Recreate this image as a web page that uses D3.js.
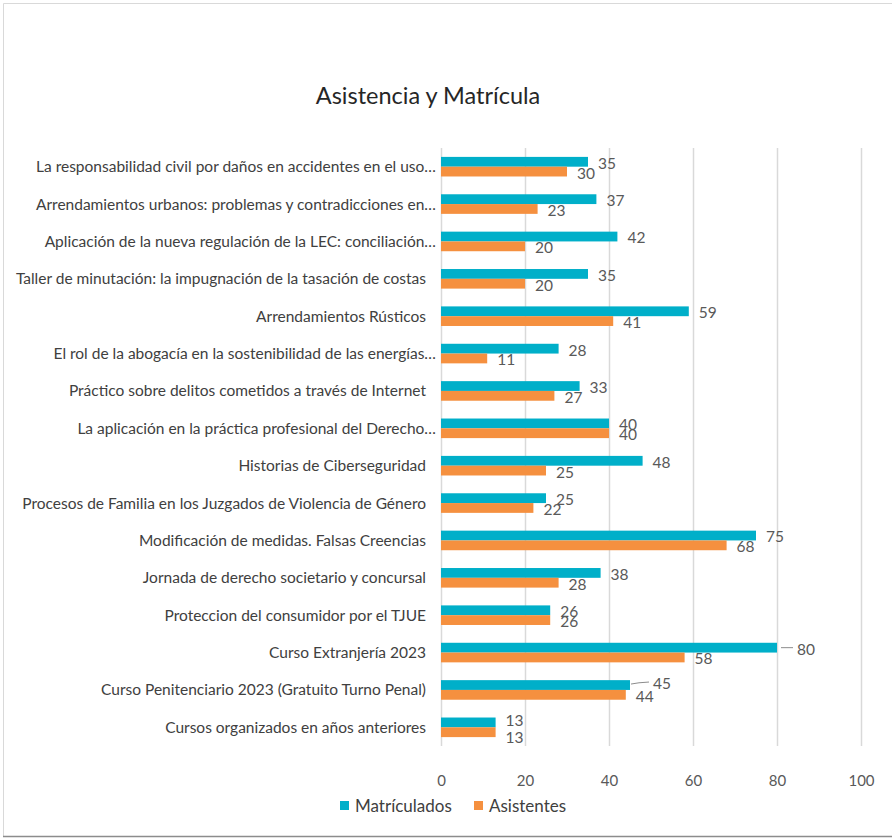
<!DOCTYPE html>
<html><head><meta charset="utf-8">
<script src="https://cdn.jsdelivr.net/npm/d3@7/dist/d3.min.js"></script>
<style>
body{margin:0;background:#fff;}
svg{display:block;font-family:Lato,"Open Sans",sans-serif;}
</style></head>
<body><svg id="c" width="892" height="838"></svg>
<script>
const categories = [
  "La responsabilidad civil por daños en accidentes en el uso…",
  "Arrendamientos urbanos: problemas y contradicciones en…",
  "Aplicación de la nueva regulación de la LEC: conciliación…",
  "Taller de minutación: la impugnación de la tasación de costas",
  "Arrendamientos Rústicos",
  "El rol de la abogacía en la sostenibilidad de las energías…",
  "Práctico sobre delitos cometidos a través de Internet",
  "La aplicación en la práctica profesional del Derecho…",
  "Historias de Ciberseguridad",
  "Procesos de Familia en los Juzgados de Violencia de Género",
  "Modificación de medidas. Falsas Creencias",
  "Jornada de derecho societario y concursal",
  "Proteccion del consumidor por el TJUE",
  "Curso Extranjería 2023",
  "Curso Penitenciario 2023 (Gratuito Turno Penal)",
  "Cursos organizados en años anteriores"
];
const matriculados = [35,37,42,35,59,28,33,40,48,25,75,38,26,80,45,13];
const asistentes   = [30,23,20,20,41,11,27,40,25,22,68,28,26,58,44,13];
const seriesNames = ["Matrículados","Asistentes"];
const xTicks = [0,20,40,60,80,100];
const title = "Asistencia y Matrícula";

const colors = ["#00AFC9","#F5903F"];
const svg = d3.select("#c");

// frame
svg.append("line").attr("x1",3.5).attr("x2",892).attr("y1",3.5).attr("y2",3.5).attr("stroke","#d9d9d9");
svg.append("line").attr("x1",3.5).attr("x2",3.5).attr("y1",3.5).attr("y2",836).attr("stroke","#d9d9d9");
svg.append("line").attr("x1",3).attr("x2",892).attr("y1",836.5).attr("y2",836.5).attr("stroke","#8c8c8c").attr("stroke-width",1.5);

svg.append("text").attr("x",428).attr("y",104).attr("text-anchor","middle")
  .attr("font-size",23.5).attr("fill","#262626").text(title);

const x = d3.scaleLinear().domain([0,100]).range([441,861]);
const y = d3.scaleBand().domain(categories).range([148,746]).paddingInner(0.476).paddingOuter(0.238);
const ys = d3.scaleBand().domain(seriesNames).range([0,y.bandwidth()]);

// grid
const xAxis = d3.axisBottom(x).tickValues(xTicks).tickSize(0).tickPadding(0);
const gx = svg.append("g").attr("transform","translate(0,746)").call(xAxis);
gx.select(".domain").remove();
gx.selectAll("text").attr("y",29).attr("font-size",15).attr("fill","#595959").attr("font-family","Lato");
svg.append("g").selectAll("line").data(xTicks).join("line")
  .attr("x1",d=>x(d)+0.5).attr("x2",d=>x(d)+0.5).attr("y1",148).attr("y2",746)
  .attr("stroke","#d9d9d9").attr("stroke-width",1.5);

// category labels
const yAxis = d3.axisLeft(y).tickSize(0).tickPadding(0);
const gy = svg.append("g").attr("transform","translate(436,0)").call(yAxis);
gy.select(".domain").remove();
gy.selectAll("text").attr("font-size",15.5).attr("fill","#404040").attr("font-family","Lato")
  .attr("x",d=>d.endsWith("…")?0:-10).attr("dy","0.35em");

const rows = categories.map((c,i)=>({c,vals:[matriculados[i],asistentes[i]]}));
const g = svg.append("g");
rows.forEach(r=>{
  r.vals.forEach((v,k)=>{
    const y0 = y(r.c)+ys(seriesNames[k]);
    g.append("rect").attr("x",x(0)).attr("y",y0).attr("width",x(v)-x(0)).attr("height",ys.bandwidth())
      .attr("fill",colors[k]);
  });
});

// data labels (Excel moved a few labels, two with leader lines)
const leader = {"Curso Extranjería 2023":[10,0],"Curso Penitenciario 2023 (Gratuito Turno Penal)":[13,-3]};
const nudge = {"Cursos organizados en años anteriores":[-3.5,4]};
rows.forEach(r=>{
  r.vals.forEach((v,k)=>{
    const cy = y(r.c)+ys(seriesNames[k])+ys.bandwidth()/2;
    let lx = x(v)+10, ly = cy+1.5;
    if(nudge[r.c]) ly += nudge[r.c][k];
    const L = k===0 ? leader[r.c] : null;
    if(L){
      const tx = lx+L[0], ty = ly+L[1];
      if(L[1]===0){
        g.append("line").attr("x1",x(v)+4).attr("x2",tx-4).attr("y1",cy).attr("y2",cy).attr("stroke","#8c8c8c");
      } else {
        g.append("path").attr("d",`M${x(v)+1},${cy-1} Q${x(v)+8},${ty-1} ${tx-4},${ty-1.5}`)
          .attr("fill","none").attr("stroke","#8c8c8c");
      }
      lx = tx; ly = ty;
    }
    g.append("text").attr("x",lx).attr("y",ly).attr("dy","0.35em").attr("font-size",15.5)
      .attr("fill","#595959").text(v);
  });
});

// legend
const lg = svg.append("g");
const lx0 = [340,474];
seriesNames.forEach((s,k)=>{
  lg.append("rect").attr("x",lx0[k]).attr("y",801).attr("width",9).attr("height",9).attr("fill",colors[k]);
  lg.append("text").attr("x",lx0[k]+15).attr("y",806).attr("dy","0.35em").attr("font-size",17)
    .attr("fill","#404040").text(s);
});
</script></body></html>
